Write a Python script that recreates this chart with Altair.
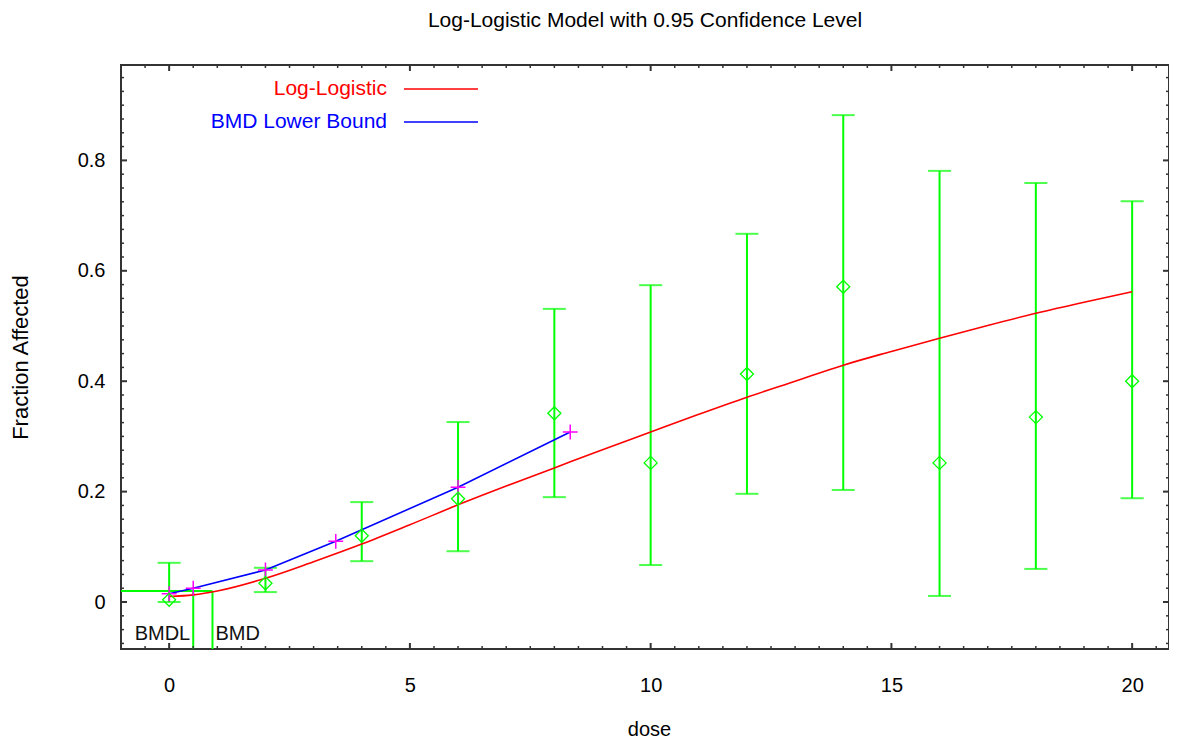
import altair as alt
import pandas as pd

FONT = "Liberation Sans"

dose = [0, 2, 4, 6, 8, 10, 12, 14, 16, 18, 20]
frac = [0.004, 0.034, 0.120, 0.187, 0.342, 0.252, 0.413, 0.571, 0.252, 0.335, 0.400]
lower = [0.000, 0.018, 0.074, 0.092, 0.190, 0.067, 0.196, 0.203, 0.011, 0.060, 0.188]
upper = [0.071, 0.062, 0.181, 0.326, 0.531, 0.574, 0.667, 0.882, 0.781, 0.759, 0.726]

# ---- fitted log-logistic curve ----
model_dose = [0, 0.5, 1, 2, 3, 4, 5, 6, 7, 8, 9, 10, 11, 12, 13, 14, 15, 16, 17, 18, 19, 20]
model_frac = [0.010, 0.013, 0.020, 0.043, 0.073, 0.105, 0.140, 0.176, 0.210, 0.243, 0.276,
              0.308, 0.340, 0.371, 0.400, 0.429, 0.454, 0.478, 0.501, 0.523, 0.543, 0.562]

# ---- BMD lower bound curve ----
lb_dose = [0, 0.50, 2, 3.46, 6, 8.33]
lb_frac = [0.015, 0.025, 0.058, 0.110, 0.208, 0.308]

# ---- benchmark dose markers ----
bmr_level = 0.02
bmd_names = ["BMDL", "BMD"]
bmd_values = [0.50, 0.90]

legend_labels = ["Log-Logistic", "BMD Lower Bound"]
legend_colors = ["#FF0000", "#0000FF"]

x_major = [0, 5, 10, 15, 20]
x_minor = [h / 2 for h in range(-1, 42) if h % 10 != 0]
y_major = [0, 0.2, 0.4, 0.6, 0.8]
y_minor = [round(k * 0.025, 3) for k in range(-3, 39) if k % 8 != 0]

W, H = 1048, 584
X_DOMAIN = [-1.0, -1.0 + W / 48.15]
Y_DOMAIN = [-0.0851, 0.9728]

xs = alt.Scale(domain=X_DOMAIN, nice=False, zero=False)
ys = alt.Scale(domain=Y_DOMAIN, nice=False, zero=False)

obs = pd.DataFrame({"dose": dose, "frac": frac, "lower": lower, "upper": upper})
model = pd.DataFrame({"dose": model_dose, "frac": model_frac})
lb = pd.DataFrame({"dose": lb_dose, "frac": lb_frac})
bmd_df = pd.DataFrame({"name": bmd_names, "dose": bmd_values, "level": [bmr_level] * 2,
                       "bottom": [Y_DOMAIN[0]] * 2})
hline = pd.DataFrame({"x0": [X_DOMAIN[0]], "x1": [bmd_values[1]], "level": [bmr_level]})

GREEN = "#00FF00"
TICK = "#333333"

x_axis = alt.Axis(title="dose", values=x_major, format="~g", ticks=False, domain=False, grid=False,
                  labelFont=FONT, labelFontSize=20, labelColor="black", labelPadding=26,
                  titleFont=FONT, titleFontSize=20, titleFontWeight="normal", titleColor="black",
                  titleY=80, titleX=528, titleBaseline="middle")
y_axis = alt.Axis(title="Fraction Affected", values=y_major, format="~g", ticks=False, domain=False,
                  grid=False, labelFont=FONT, labelFontSize=20, labelColor="black", labelPadding=16,
                  titleFont=FONT, titleFontSize=22, titleFontWeight="normal", titleColor="black",
                  titleX=-101, titleY=292, titleBaseline="middle", titleAngle=-90)


def X(f):
    return alt.X(f, scale=xs, axis=x_axis)


def Y(f):
    return alt.Y(f, scale=ys, axis=y_axis)


bars = alt.Chart(obs).mark_rule(color=GREEN, strokeWidth=2).encode(
    x=X("dose:Q"), y=Y("lower:Q"), y2="upper:Q")
cap_lo = alt.Chart(obs).mark_tick(color=GREEN, orient="horizontal", size=23, thickness=2).encode(
    x=X("dose:Q"), y=Y("lower:Q"))
cap_hi = alt.Chart(obs).mark_tick(color=GREEN, orient="horizontal", size=23, thickness=2).encode(
    x=X("dose:Q"), y=Y("upper:Q"))
pts = alt.Chart(obs).mark_point(shape="diamond", filled=False, color=GREEN, size=170,
                                strokeWidth=1.3, opacity=1).encode(x=X("dose:Q"), y=Y("frac:Q"))

red = alt.Chart(model).mark_line(color="#FF0000", strokeWidth=1.6, interpolate="monotone").encode(
    x=X("dose:Q"), y=Y("frac:Q"))
blue = alt.Chart(lb).mark_line(color="#0000FF", strokeWidth=1.6).encode(x=X("dose:Q"), y=Y("frac:Q"))
plus = alt.Chart(lb).mark_point(shape="M-1,0L1,0M0,-1L0,1", filled=False, color="#FF00FF",
                                size=220, strokeWidth=1.5, opacity=1).encode(x=X("dose:Q"), y=Y("frac:Q"))

bmd_h = alt.Chart(hline).mark_rule(color=GREEN, strokeWidth=2, clip=True).encode(
    x=X("x0:Q"), x2="x1:Q", y=Y("level:Q"))
bmd_v = alt.Chart(bmd_df).mark_rule(color=GREEN, strokeWidth=2, clip=True).encode(
    x=X("dose:Q"), y=Y("level:Q"), y2="bottom:Q")
bmdl_txt = alt.Chart(bmd_df[bmd_df.name == "BMDL"]).mark_text(
    align="right", baseline="middle", dx=-3, font=FONT, fontSize=20, color="#111111").encode(
    x=X("dose:Q"), y=alt.value(569), text="name:N")
bmd_txt = alt.Chart(bmd_df[bmd_df.name == "BMD"]).mark_text(
    align="left", baseline="middle", dx=3, font=FONT, fontSize=20, color="#111111").encode(
    x=X("dose:Q"), y=alt.value(569), text="name:N")

# frame ticks (inward)
tick_layers = []
for vals, ln, sw in [(x_major, 6, 2), (x_minor, 3, 1.5)]:
    d = pd.DataFrame({"v": vals})
    tick_layers.append(alt.Chart(d).mark_rule(color=TICK, strokeWidth=sw).encode(
        x=X("v:Q"), y=alt.value(H), y2=alt.value(H - ln)))
    tick_layers.append(alt.Chart(d).mark_rule(color=TICK, strokeWidth=sw).encode(
        x=X("v:Q"), y=alt.value(0), y2=alt.value(ln)))
for vals, ln, sw in [(y_major, 6, 2), (y_minor, 3, 1.5)]:
    d = pd.DataFrame({"v": vals})
    tick_layers.append(alt.Chart(d).mark_rule(color=TICK, strokeWidth=sw).encode(
        y=Y("v:Q"), x=alt.value(0), x2=alt.value(ln)))
    tick_layers.append(alt.Chart(d).mark_rule(color=TICK, strokeWidth=sw).encode(
        y=Y("v:Q"), x=alt.value(W), x2=alt.value(W - ln)))

# legend (text left, line right)
legend_layers = []
for i, (lab, col) in enumerate(zip(legend_labels, legend_colors)):
    ypix = 24 + 33 * i
    d = pd.DataFrame({"label": [lab]})
    legend_layers.append(alt.Chart(d).mark_text(
        align="right", baseline="middle", font=FONT, fontSize=21, color=col).encode(
        x=alt.value(266), y=alt.value(ypix), text="label:N"))
    legend_layers.append(alt.Chart(d).mark_rule(color=col, strokeWidth=1.6).encode(
        x=alt.value(283), x2=alt.value(357), y=alt.value(ypix)))

chart = alt.layer(
    bars, cap_lo, cap_hi, bmd_h, bmd_v, red, blue, plus, pts, bmdl_txt, bmd_txt,
    *tick_layers, *legend_layers
).properties(
    width=W, height=H,
    background="white",
    title=alt.TitleParams("Log-Logistic Model with 0.95 Confidence Level", font=FONT, fontSize=21,
                          fontWeight="normal", color="black", anchor="middle", offset=33),
    autosize=alt.AutoSizeParams(type="none"),
    padding={"left": 113, "top": 57, "right": 0, "bottom": 90},
).configure_view(stroke="#333333", strokeWidth=2)

chart.save("out.html", embed_options={"renderer": "svg", "actions": False})
